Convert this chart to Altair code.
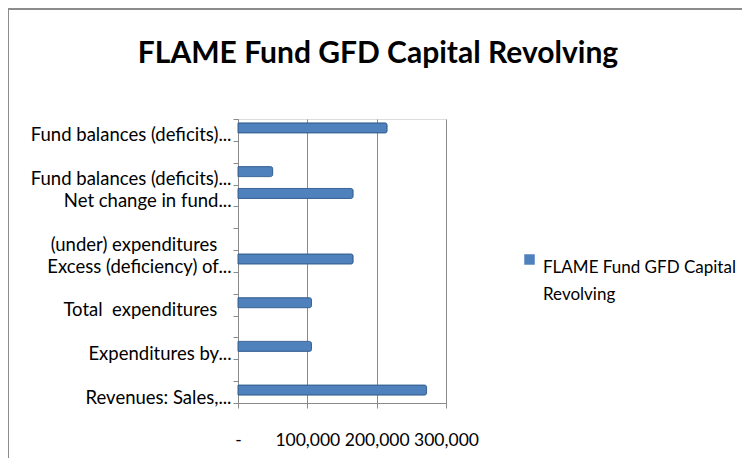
import json
import altair as alt
import pandas as pd

NB = "\u00a0"
ZW = "\u200b"
# 13 category slots, top to bottom (Excel shows only some labels)
slot_labels = [
    "Fund balances (deficits)...",
    "",
    "Fund balances (deficits)...",
    "Net change in fund...",
    "",
    "(under) expenditures" + NB * 3 + ZW,
    "Excess (deficiency) of...",
    "",
    "Total" + NB + " expenditures" + NB * 3 + ZW,
    "",
    "Expenditures by...",
    "",
    "Revenues: Sales,...",
]
values = [215000, None, 50000, 166000, None, None, 166000, None, 106000, None, 106000, None, 272000]
series_name = "FLAME Fund GFD Capital Revolving"
legend_lines = ["FLAME Fund GFD Capital", "Revolving"]
x_ticks = [0, 100000, 200000, 300000]

df = pd.DataFrame({
    "slot": list(range(len(slot_labels))),
    "value": values,
    "series": [series_name] * len(slot_labels),
})

label_arr = json.dumps(slot_labels)
legend_arr = json.dumps(legend_lines)
FONT = "Lato"
GRID = "#8a8a8a"
FS = 18.5

y_enc = alt.Y(
    "slot:O",
    sort=list(range(len(slot_labels))),
    scale=alt.Scale(paddingInner=0, paddingOuter=0),
    axis=alt.Axis(
        title=None,
        labelExpr=f"{label_arr}[datum.value]",
        tickBand="extent",
        tickSize=5,
        tickColor=GRID,
        domainColor=GRID,
        labelPadding=2,
        labelOffset=5,
        labelFont=FONT,
        labelFontSize=FS,
        labelColor="#000000",
        labelLimit=260,
        labelOverlap=False,
        grid=False,
    ),
)

x_enc = alt.X(
    "value:Q",
    scale=alt.Scale(domain=[0, 300000], nice=False),
    axis=alt.Axis(
        title=None,
        values=x_ticks,
        labelExpr="datum.value == 0 ? '-' : format(datum.value, ',')",
        tickSize=5,
        tickColor=GRID,
        domainColor=GRID,
        grid=True,
        gridColor=GRID,
        labelPadding=23,
        labelFont=FONT,
        labelFontSize=17.5,
        labelColor="#000000",
        labelFlush=False,
        labelOverlap=False,
    ),
)

bars = alt.Chart(df).mark_bar(
    size=10, stroke="#3A6496", strokeWidth=1, yOffset=-2, cornerRadiusEnd=2
).encode(
    x=x_enc,
    y=y_enc,
    color=alt.Color(
        "series:N",
        scale=alt.Scale(range=["#4F81BD"]),
        legend=alt.Legend(
            title=None,
            orient="none",
            legendX=283,
            legendY=132,
            symbolType="square",
            symbolSize=110,
            symbolStrokeWidth=0,
            labelFont=FONT,
            labelFontSize=17,
            labelColor="#000000",
            labelLimit=300,
            labelBaseline="top",
            labelOffset=5,
            labelExpr=f"{legend_arr}",
        ),
    ),
)

border_top = alt.Chart(df).mark_rule(color="#8c8c8c", strokeWidth=2).encode(
    x=alt.value(-230), x2=alt.value(520), y=alt.value(-110)
)
border_left = alt.Chart(df).mark_rule(color="#8c8c8c", strokeWidth=2).encode(
    x=alt.value(-230), y=alt.value(-110), y2=alt.value(360)
)

chart = alt.layer(bars, border_top, border_left).properties(
    width=208,
    height=284,
    autosize=alt.AutoSizeParams(type="none"),
    padding={"left": 230, "top": 111, "right": 296, "bottom": 55},
    title=alt.TitleParams(
        text="FLAME Fund GFD Capital Revolving",
        font=FONT,
        fontSize=30,
        fontWeight="bold",
        color="#000000",
        anchor="middle",
        dx=36,
        dy=61,
        offset=0,
    ),
).configure_view(stroke=None).configure(
    background="white",
    style={"guide-label": {"lineHeight": 27}},
)

chart.save("out.html", embed_options={"renderer": "svg", "actions": False})
